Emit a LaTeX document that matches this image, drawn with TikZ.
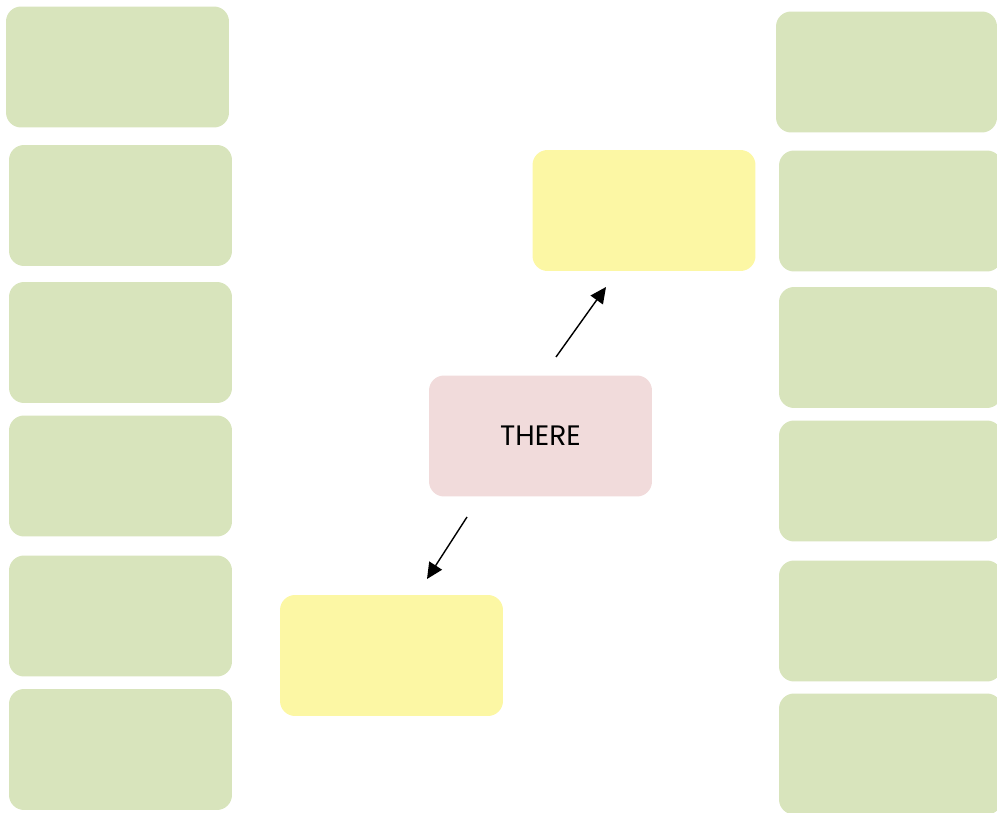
\documentclass[tikz,border=0pt]{standalone}
\usepackage{fontspec}
\setmainfont{Poppins}
\usepackage{tikz}
\usetikzlibrary{arrows.meta}
\definecolor{sage}{RGB}{216,228,188}
\definecolor{lemon}{RGB}{252,247,164}
\definecolor{blush}{RGB}{241,219,219}

\begin{document}
\begin{tikzpicture}[
    x=0.02cm, y=-0.02cm,
    box/.style={rounded corners=0.3cm, inner sep=0pt, minimum width=4.46cm,
                minimum height=2.42cm, font=\fontsize{16}{19}\selectfont},
    side/.style={box, fill=sage},
    goal/.style={box, fill=lemon},
    hub/.style={box, fill=blush},
    arr/.style={-{Triangle[length=3.2mm, width=3mm]}, line width=0.8pt},
  ]
  \clip (0,0) rectangle (997,813);
  \useasboundingbox (0,0) rectangle (997,813);

  % left column
  \node[side] (l1) at (117.5,67) {};
  \node[side] (l2) at (120.5,205.5) {};
  \node[side] (l3) at (120.5,342.5) {};
  \node[side] (l4) at (120.5,476) {};
  \node[side] (l5) at (120.5,616) {};
  \node[side] (l6) at (120.5,749.5) {};

  % right column
  \node[side, minimum width=4.42cm] (r1) at (886.5,72) {};
  \node[side] (r2) at (890.5,211) {};
  \node[side] (r3) at (890.5,347.5) {};
  \node[side] (r4) at (890.5,481) {};
  \node[side] (r5) at (890.5,621) {};
  \node[side] (r6) at (890.5,754) {};

  % middle
  \node[goal] (up)    at (644,210.5) {};
  \node[hub]  (there) at (540.5,436) {THERE};
  \node[goal] (down)  at (391.5,655.5) {};

  \coordinate (upfrom) at (556,357);
  \coordinate (upto) at (606,287);
  \coordinate (dnfrom) at (467,517);
  \coordinate (dnto) at (427,579);
  \draw[arr] (upfrom) -- (upto);
  \draw[arr] (dnfrom) -- (dnto);
\end{tikzpicture}
\end{document}
